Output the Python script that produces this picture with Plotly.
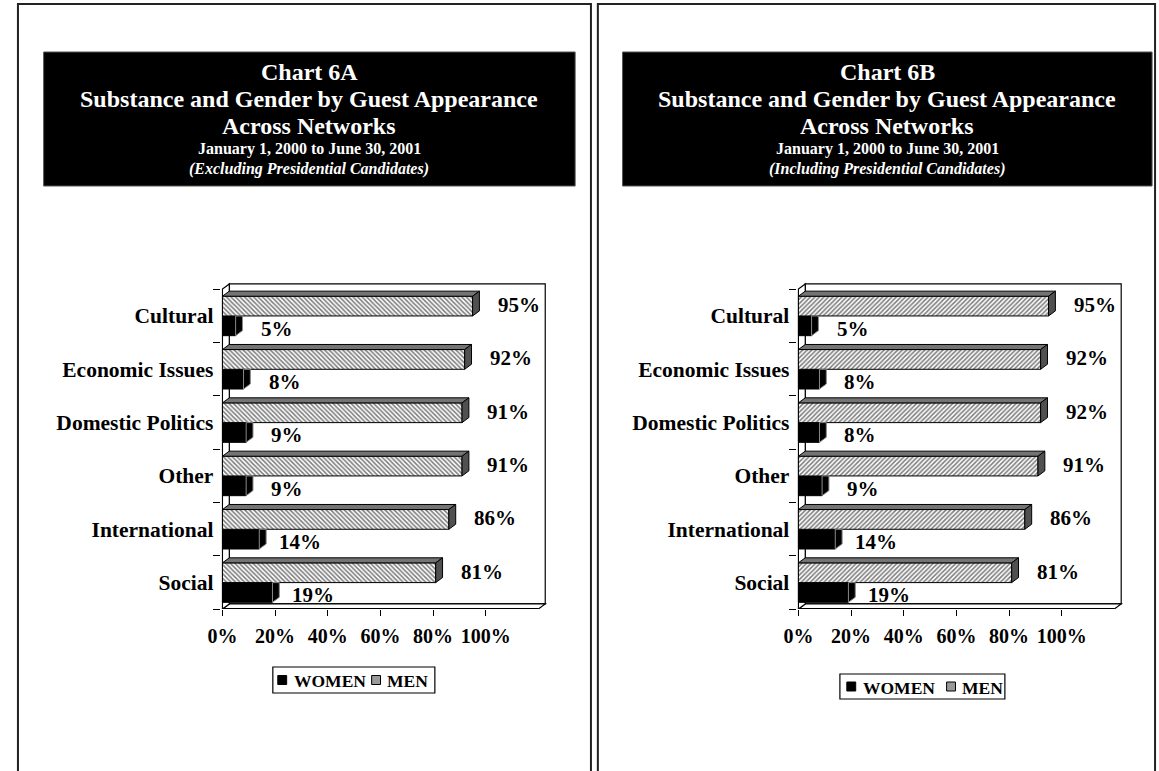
import plotly.graph_objects as go

W, H = 1159, 771

# ---- data -------------------------------------------------------------
categories = ["Cultural", "Economic Issues", "Domestic Politics",
              "Other", "International", "Social"]
women_6a = [5, 8, 9, 9, 14, 19]
men_6a = [95, 92, 91, 91, 86, 81]
women_6b = [5, 8, 8, 9, 14, 19]
men_6b = [95, 92, 92, 91, 86, 81]
pct_ticks = [0, 20, 40, 60, 80, 100]
pct_tick_labels = ["0%", "20%", "40%", "60%", "80%", "100%"]
series_names = ["WOMEN", "MEN"]

titles_6a = ["Chart 6A", "Substance and Gender by Guest Appearance",
             "Across Networks", "January 1, 2000 to June 30, 2001",
             "(Excluding Presidential Candidates)"]
titles_6b = ["Chart 6B", "Substance and Gender by Guest Appearance",
             "Across Networks", "January 1, 2000 to June 30, 2001",
             "(Including Presidential Candidates)"]

# ---- styling / geometry ------------------------------------------------
SERIF = "Liberation Serif"
DX, DY = 2.6, 0.095          # depth of the 3-D look, in axis units
BAR_W = 0.37
MEN_OFF, WOMEN_OFF = 0.18, -0.19
WALL_X = 120                 # extent of floor / back wall (%)
X_RANGE = [-0.4, 124]
Y_RANGE = [-0.5, 5.7]
PX_PER_PCT = 2.665
PX_PER_CAT = 53.33
AXIS_BOTTOM_PX = 609
MEN_FILL = "#999999"

fig = go.Figure()


def px_x(v):
    return v / W


def px_y(v):
    return 1 - v / H


def add_panel(women, men, xa, ya, hatch, zero_px):
    n = len(categories)
    centers = [n - 1 - i for i in range(n)]
    men_pos = [c + MEN_OFF for c in centers]
    women_pos = [c + WOMEN_OFF for c in centers]

    fig.add_trace(go.Bar(
        name=series_names[0], x=women, y=women_pos, orientation="h", width=BAR_W,
        marker=dict(color="black", line=dict(color="black", width=1)),
        xaxis=xa, yaxis=ya, showlegend=False, hoverinfo="skip"))
    fig.add_trace(go.Bar(
        name=series_names[1], x=men, y=men_pos, orientation="h", width=BAR_W,
        marker=dict(color="white",
                    pattern=dict(shape=hatch, fgcolor="black", bgcolor="white",
                                 size=3.2, solidity=0.5),
                    line=dict(color="black", width=1)),
        xaxis=xa, yaxis=ya, showlegend=False, hoverinfo="skip"))

    # side faces of the women bars (upper part is hidden behind the men bar)
    for v, yc in zip(women, women_pos):
        bot, top = yc - BAR_W / 2, yc + BAR_W / 2
        fig.add_trace(go.Scatter(
            x=[v, v, v + DX, v + DX, v], y=[bot, top, top, bot + DY, bot],
            mode="lines", fill="toself", fillcolor="black",
            line=dict(color="#888888", width=1), showlegend=False,
            hoverinfo="skip", xaxis=xa, yaxis=ya))

    # top and side faces of the men bars
    for v, yc in zip(men, men_pos):
        bot, top = yc - BAR_W / 2, yc + BAR_W / 2
        fig.add_trace(go.Scatter(
            x=[0, v, v + DX, DX, 0], y=[top, top, top + DY, top + DY, top],
            mode="lines", fill="toself", fillcolor="#747474",
            line=dict(color="black", width=1), showlegend=False,
            hoverinfo="skip", xaxis=xa, yaxis=ya))
        fig.add_trace(go.Scatter(
            x=[v, v, v + DX, v + DX, v], y=[bot, top, top + DY, bot + DY, bot],
            mode="lines", fill="toself", fillcolor="#505050",
            line=dict(color="black", width=1), showlegend=False,
            hoverinfo="skip", xaxis=xa, yaxis=ya))

    # value labels, centred a fixed distance past the end of each bar
    for v, yc in zip(men, men_pos):
        fig.add_annotation(x=v, y=yc, xref=xa, yref=ya, text=f"<b>{v}%</b>",
                           showarrow=False, xanchor="center", xshift=46,
                           yshift=1,
                           font=dict(family=SERIF, size=21, color="black"))
    for v, yc in zip(women, women_pos):
        fig.add_annotation(x=v, y=yc, xref=xa, yref=ya, text=f"<b>{v}%</b>",
                           showarrow=False, xanchor="center", xshift=41,
                           yshift=-3,
                           font=dict(family=SERIF, size=21, color="black"))

    # 3-D frame: back wall, floor and left wall
    lo, hi = Y_RANGE[0], n - 0.5
    frame = dict(xref=xa, yref=ya, layer="below",
                 line=dict(color="black", width=1.2))
    fig.add_shape(type="path", fillcolor="white",
                  path=f"M {DX},{lo + DY} L {DX},{hi + DY} L {WALL_X + DX},{hi + DY} "
                       f"L {WALL_X + DX},{lo + DY} Z", **frame)
    fig.add_shape(type="path", fillcolor="white",
                  path=f"M 0,{lo} L {WALL_X},{lo} L {WALL_X + DX},{lo + DY} "
                       f"L {DX},{lo + DY} Z", **frame)
    fig.add_shape(type="path", fillcolor="white",
                  path=f"M 0,{lo} L 0,{hi} L {DX},{hi + DY} L {DX},{lo + DY} Z",
                  **frame)
    fig.add_shape(type="line", x0=0, x1=WALL_X, y0=lo, y1=lo, xref=xa, yref=ya,
                  layer="below", line=dict(color="black", width=2))

    # axes
    x0_px = zero_px + X_RANGE[0] * PX_PER_PCT
    x1_px = zero_px + X_RANGE[1] * PX_PER_PCT
    y_top_px = AXIS_BOTTOM_PX - (Y_RANGE[1] - Y_RANGE[0]) * PX_PER_CAT
    xkey = "xaxis" if xa == "x" else "xaxis" + xa[1:]
    ykey = "yaxis" if ya == "y" else "yaxis" + ya[1:]
    fig.update_layout(**{
        xkey: dict(domain=[px_x(x0_px), px_x(x1_px)], range=X_RANGE, anchor=ya,
                   tickvals=pct_ticks, ticktext=pct_tick_labels,
                   ticks="outside", ticklen=6, tickcolor="black",
                   showgrid=False, zeroline=False, showline=False,
                   ticklabelstandoff=3, fixedrange=True,
                   tickfont=dict(family=SERIF, size=20, color="black",
                                 weight="bold")),
        ykey: dict(domain=[px_y(AXIS_BOTTOM_PX), px_y(y_top_px)],
                   range=Y_RANGE, anchor=xa,
                   tickvals=centers, ticktext=categories, ticks="",
                   minor=dict(tickmode="array",
                              tickvals=[c - 0.5 for c in range(n + 1)],
                              ticks="outside", ticklen=7, tickcolor="black"),
                   showgrid=False, zeroline=False, showline=False,
                   ticklabelstandoff=7, fixedrange=True,
                   tickfont=dict(family=SERIF, size=21.5, color="black",
                                 weight="bold")),
    })


def add_key(box, swatches, texts):
    """Boxed key: black swatch for women, hatched-grey swatch for men."""
    bx0, by0, bx1, by1 = box
    fig.add_shape(type="rect", xref="paper", yref="paper",
                  x0=px_x(bx0), x1=px_x(bx1), y0=px_y(by0), y1=px_y(by1),
                  fillcolor="white", line=dict(color="black", width=1.2))
    yc = (by0 + by1) / 2
    fills = ["black", MEN_FILL]
    for (sx, tx), fill, name in zip(zip(swatches, texts), fills, series_names):
        fig.add_shape(type="rect", xref="paper", yref="paper",
                      x0=px_x(sx), x1=px_x(sx + 9), y0=px_y(yc - 4.5),
                      y1=px_y(yc + 4.5), fillcolor=fill,
                      line=dict(color="black", width=1))
        fig.add_annotation(x=px_x(tx), y=px_y(yc + 1), xref="paper", yref="paper",
                           text=f"<b>{name}</b>", showarrow=False,
                           xanchor="left", yanchor="middle",
                           font=dict(family=SERIF, size=17.5, color="black"))


add_panel(women_6a, men_6a, "x", "y", "\\", 211)
add_panel(women_6b, men_6b, "x2", "y2", "/", 794)
add_key((262, 667, 426, 693), (267, 362), (281, 376))
add_key((836, 674, 1003, 699), (843, 944), (857, 958))

# ---- page frames and title boxes ---------------------------------------
for x0, x1 in [(4, 584), (591, 1155)]:
    fig.add_shape(type="rect", xref="paper", yref="paper",
                  x0=px_x(x0), x1=px_x(x1), y0=px_y(4), y1=-0.05,
                  line=dict(color="#222222", width=2))

title_sizes = [24, 24, 24, 16, 16]
title_rows_px = [72, 99, 126, 149, 169]
for (bx0, bx1), lines in [((30, 568), titles_6a), ((616, 1152), titles_6b)]:
    fig.add_shape(type="rect", xref="paper", yref="paper",
                  x0=px_x(bx0), x1=px_x(bx1), y0=px_y(52), y1=px_y(186),
                  fillcolor="black", line=dict(color="#555555", width=1))
    for i, (txt, size, ypx) in enumerate(zip(lines, title_sizes, title_rows_px)):
        label = f"<b><i>{txt}</i></b>" if i == len(lines) - 1 else f"<b>{txt}</b>"
        fig.add_annotation(x=px_x((bx0 + bx1) / 2), y=px_y(ypx),
                           xref="paper", yref="paper", text=label,
                           showarrow=False, xanchor="center", yanchor="middle",
                           borderpad=0,
                           font=dict(family=SERIF, size=size, color="white"))

fig.update_layout(width=W, height=H, margin=dict(l=0, r=0, t=0, b=0),
                  paper_bgcolor="white", plot_bgcolor="white",
                  barmode="overlay", showlegend=False)

fig.write_html("out.html")
